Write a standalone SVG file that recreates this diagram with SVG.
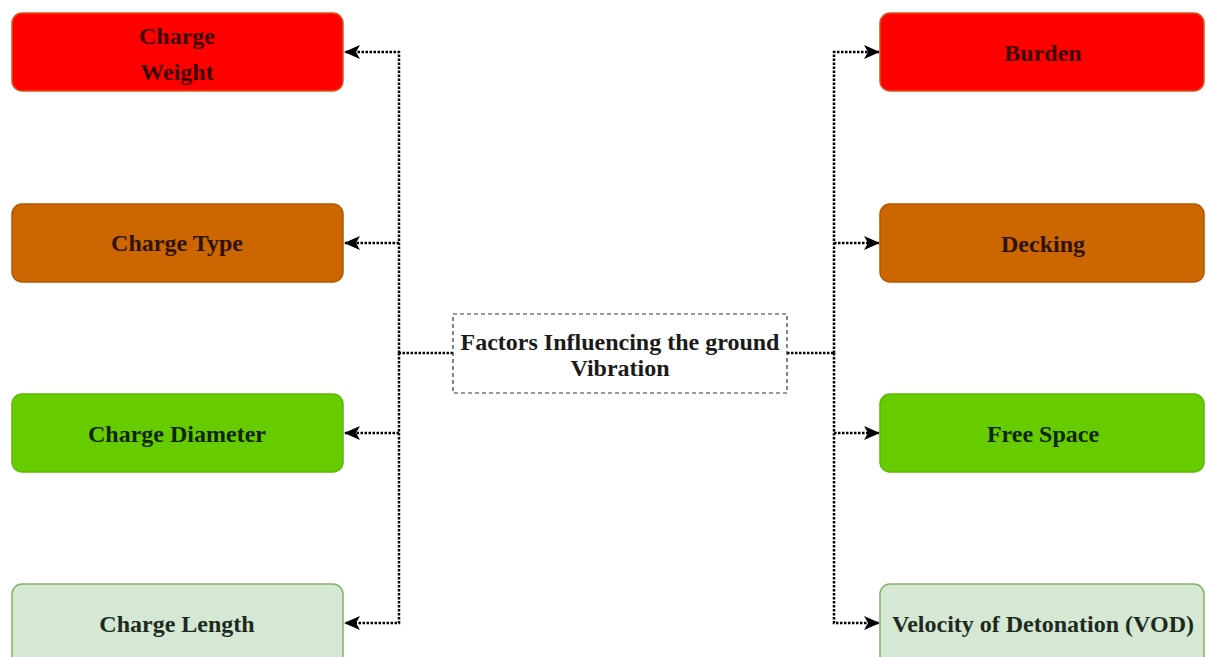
<svg xmlns="http://www.w3.org/2000/svg" width="1206" height="657" viewBox="0 0 1206 657">
<defs>
<style>
.box{stroke-width:1.5}
.red{fill:#FF0000;stroke:#D9531E}
.orange{fill:#CC6600;stroke:#B35900}
.green{fill:#66CC00;stroke:#5CB800}
.light{fill:#D5E8D4;stroke:#82B366}
.t{font-family:"Liberation Serif","Times New Roman",serif;font-weight:bold;font-size:24px;text-anchor:middle;dominant-baseline:central}
.tr{fill:#3d0000}
.to{fill:#2e1400}
.tg{fill:#0f2600}
.tl{fill:#1f2a1f}
.tc{fill:#1a1a1a}
.conn{fill:none;stroke:#000;stroke-width:2.5;stroke-dasharray:2.5 1.5}
</style>
<marker id="arr" viewBox="0 0 16 14" refX="15" refY="7" markerWidth="16" markerHeight="14" markerUnits="userSpaceOnUse" orient="auto">
<path d="M0,0 L16,7 L0,14 L4,7 Z" fill="#000"/>
</marker>
</defs>
<rect width="1206" height="657" fill="#fff"/>
<g id="connectors">
<path class="conn" d="M453,353 H399"/>
<path class="conn" d="M399,353 V52 H345" marker-end="url(#arr)"/>
<path class="conn" d="M399,243 H345" marker-end="url(#arr)"/>
<path class="conn" d="M399,353 V433 H345" marker-end="url(#arr)"/>
<path class="conn" d="M399,433 V623 H345" marker-end="url(#arr)"/>
<path class="conn" d="M787,353 H834"/>
<path class="conn" d="M834,353 V52 H879" marker-end="url(#arr)"/>
<path class="conn" d="M834,243 H879" marker-end="url(#arr)"/>
<path class="conn" d="M834,353 V433 H879" marker-end="url(#arr)"/>
<path class="conn" d="M834,433 V623 H879" marker-end="url(#arr)"/>
</g>
<g id="center">
<rect x="453" y="314" width="334" height="79" fill="#fff" stroke="#333" stroke-width="1.2" stroke-dasharray="4 3"/>
<text class="t tc" x="620" y="342">Factors Influencing the ground</text>
<text class="t tc" x="620" y="368">Vibration</text>
</g>
<g id="charge-weight">
<rect class="box red" x="12" y="13" width="331" height="78" rx="10"/>
<text class="t tr" x="177" y="36">Charge</text>
<text class="t tr" x="177" y="72">Weight</text>
</g>
<g id="charge-type">
<rect class="box orange" x="12" y="204" width="331" height="78" rx="10"/>
<text class="t to" x="177" y="243">Charge Type</text>
</g>
<g id="charge-diameter">
<rect class="box green" x="12" y="394" width="331" height="78" rx="10"/>
<text class="t tg" x="177" y="434">Charge Diameter</text>
</g>
<g id="charge-length">
<rect class="box light" x="12" y="584" width="331" height="90" rx="10"/>
<text class="t tl" x="177" y="624">Charge Length</text>
</g>
<g id="burden">
<rect class="box red" x="880" y="13" width="324" height="78" rx="10"/>
<text class="t tr" x="1043" y="53">Burden</text>
</g>
<g id="decking">
<rect class="box orange" x="880" y="204" width="324" height="78" rx="10"/>
<text class="t to" x="1043" y="244">Decking</text>
</g>
<g id="free-space">
<rect class="box green" x="880" y="394" width="324" height="78" rx="10"/>
<text class="t tg" x="1043" y="434">Free Space</text>
</g>
<g id="vod">
<rect class="box light" x="880" y="584" width="324" height="90" rx="10"/>
<text class="t tl" x="1043" y="624">Velocity of Detonation (VOD)</text>
</g>
</svg>
